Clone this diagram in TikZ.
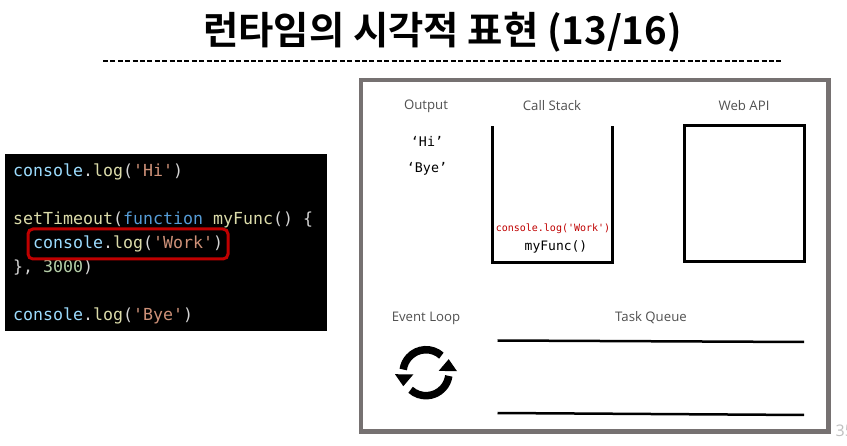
\documentclass[tikz,border=0pt]{standalone}
\usepackage{fontspec}
\setmainfont{Open Sans}
\setmonofont{DejaVu Sans Mono}
\newfontfamily\krfont{Noto Sans CJK KR}[BoldFont={Noto Sans CJK KR Bold}]
\definecolor{cblue}{HTML}{9CDCFE}
\definecolor{cfn}{HTML}{569CD6}
\definecolor{cstr}{HTML}{CE9178}
\definecolor{cyel}{HTML}{DCDCAA}
\definecolor{cnum}{HTML}{B5CEA8}
\definecolor{cpun}{HTML}{D4D4D4}
\definecolor{frame}{HTML}{767171}
\definecolor{cred}{HTML}{C00000}
\definecolor{lab}{HTML}{505050}
\newcommand{\clog}{\textcolor{cblue}{console}\textcolor{cpun}{.}\textcolor{cyel}{log}\textcolor{cpun}{(}}
\tikzset{
  codeline/.style={anchor=base west,inner sep=0pt,font=\fontsize{16.6}{18}\selectfont\ttfamily,text=cpun},
  heading/.style={inner sep=0pt,text=lab,font=\fontsize{13.2}{15}\selectfont},
  outtext/.style={inner sep=0pt,font=\fontsize{13.3}{15}\selectfont\ttfamily},
  heavy/.style={line width=3pt,black},
  queueline/.style={line width=2.5pt,black},
  loopline/.style={line width=7.5pt,black},
}
\begin{document}
\begin{tikzpicture}[x=1pt,y=-1pt]
\useasboundingbox (0,0) rectangle (847,446);
\fill[white] (0,0) rectangle (847,446);
% title
\node[inner sep=0pt,font=\krfont\bfseries\fontsize{38.4}{42}\selectfont] (title) at (442.5,32) {런타임의 시각적 표현 (13/16)};
\coordinate (ruleL) at (103,61);
\coordinate (ruleR) at (782,61);
\draw[line width=1.2pt,dash pattern=on 5pt off 2.4pt] (ruleL) -- (ruleR);
% code
\fill[black] (5,154) rectangle (327,331);
\node[codeline] (c1) at (13,177) {\clog\textcolor{cstr}{'Hi'}\textcolor{cpun}{)}};
\node[codeline] (c2) at (13,225) {\textcolor{cyel}{setTimeout}\textcolor{cpun}{(}\textcolor{cfn}{function} \textcolor{cyel}{myFunc}\textcolor{cpun}{() \{}};
\node[codeline] (c3) at (33,249) {\clog\textcolor{cstr}{'Work'}\textcolor{cpun}{)}};
\node[codeline] (c4) at (13,273) {\textcolor{cpun}{\}, }\textcolor{cnum}{3000}\textcolor{cpun}{)}};
\node[codeline] (c5) at (13,321) {\clog\textcolor{cstr}{'Bye'}\textcolor{cpun}{)}};
\draw[cred,line width=3pt,rounded corners=5pt] (28,229) rectangle (228,259);
% frame
\draw[frame,line width=4.7pt] (361,80) rectangle (828.5,431.5);
% headings
\node[heading] (hout) at (426,106) {Output};
\node[heading] (hcall) at (552,106) {Call Stack};
\node[heading] (hweb) at (744,106) {Web API};
\node[heading] (hloop) at (426,318) {Event Loop};
\node[heading] (hqueue) at (651,318) {Task Queue};
% output
\node[outtext] (hi) at (427,141) {‘Hi’};
\node[outtext] (bye) at (427,169) {‘Bye’};
% call stack
\draw[heavy,line join=miter] (492.7,126.5) -- (492.7,262.5) -- (612,262.5) -- (612,126.5);
\node[inner sep=0pt,text=cred,font=\fontsize{10}{12}\selectfont\ttfamily] (work) at (553,229) {console.log('Work')};
\node[inner sep=0pt,font=\fontsize{13}{15}\selectfont\ttfamily] (myf) at (556,247) {myFunc()};
% web api
\draw[heavy] (684.5,125.5) rectangle (804,261.5);
% task queue
\draw[queueline] (497.5,340.5) -- (804,342);
\draw[queueline] (497.5,413) -- (804,415);
% loop icon
\begin{scope}[shift={(426,372.7)},y=1pt]
\draw[loopline] (48:23) arc[start angle=48,end angle=172,radius=23];
\fill[black] (-31,-1.5) -- (-12.7,-1.8) -- (-22.7,-13.5) -- cycle;
\draw[loopline] (228:23) arc[start angle=228,end angle=352,radius=23];
\fill[black] (31,1.5) -- (12.7,1.8) -- (22.7,13.5) -- cycle;
\end{scope}
% page number
\node[inner sep=0pt,anchor=base west,text=black!25,font=\fontsize{16}{18}\selectfont] (pg) at (835.5,437) {35};
\end{tikzpicture}
\end{document}
